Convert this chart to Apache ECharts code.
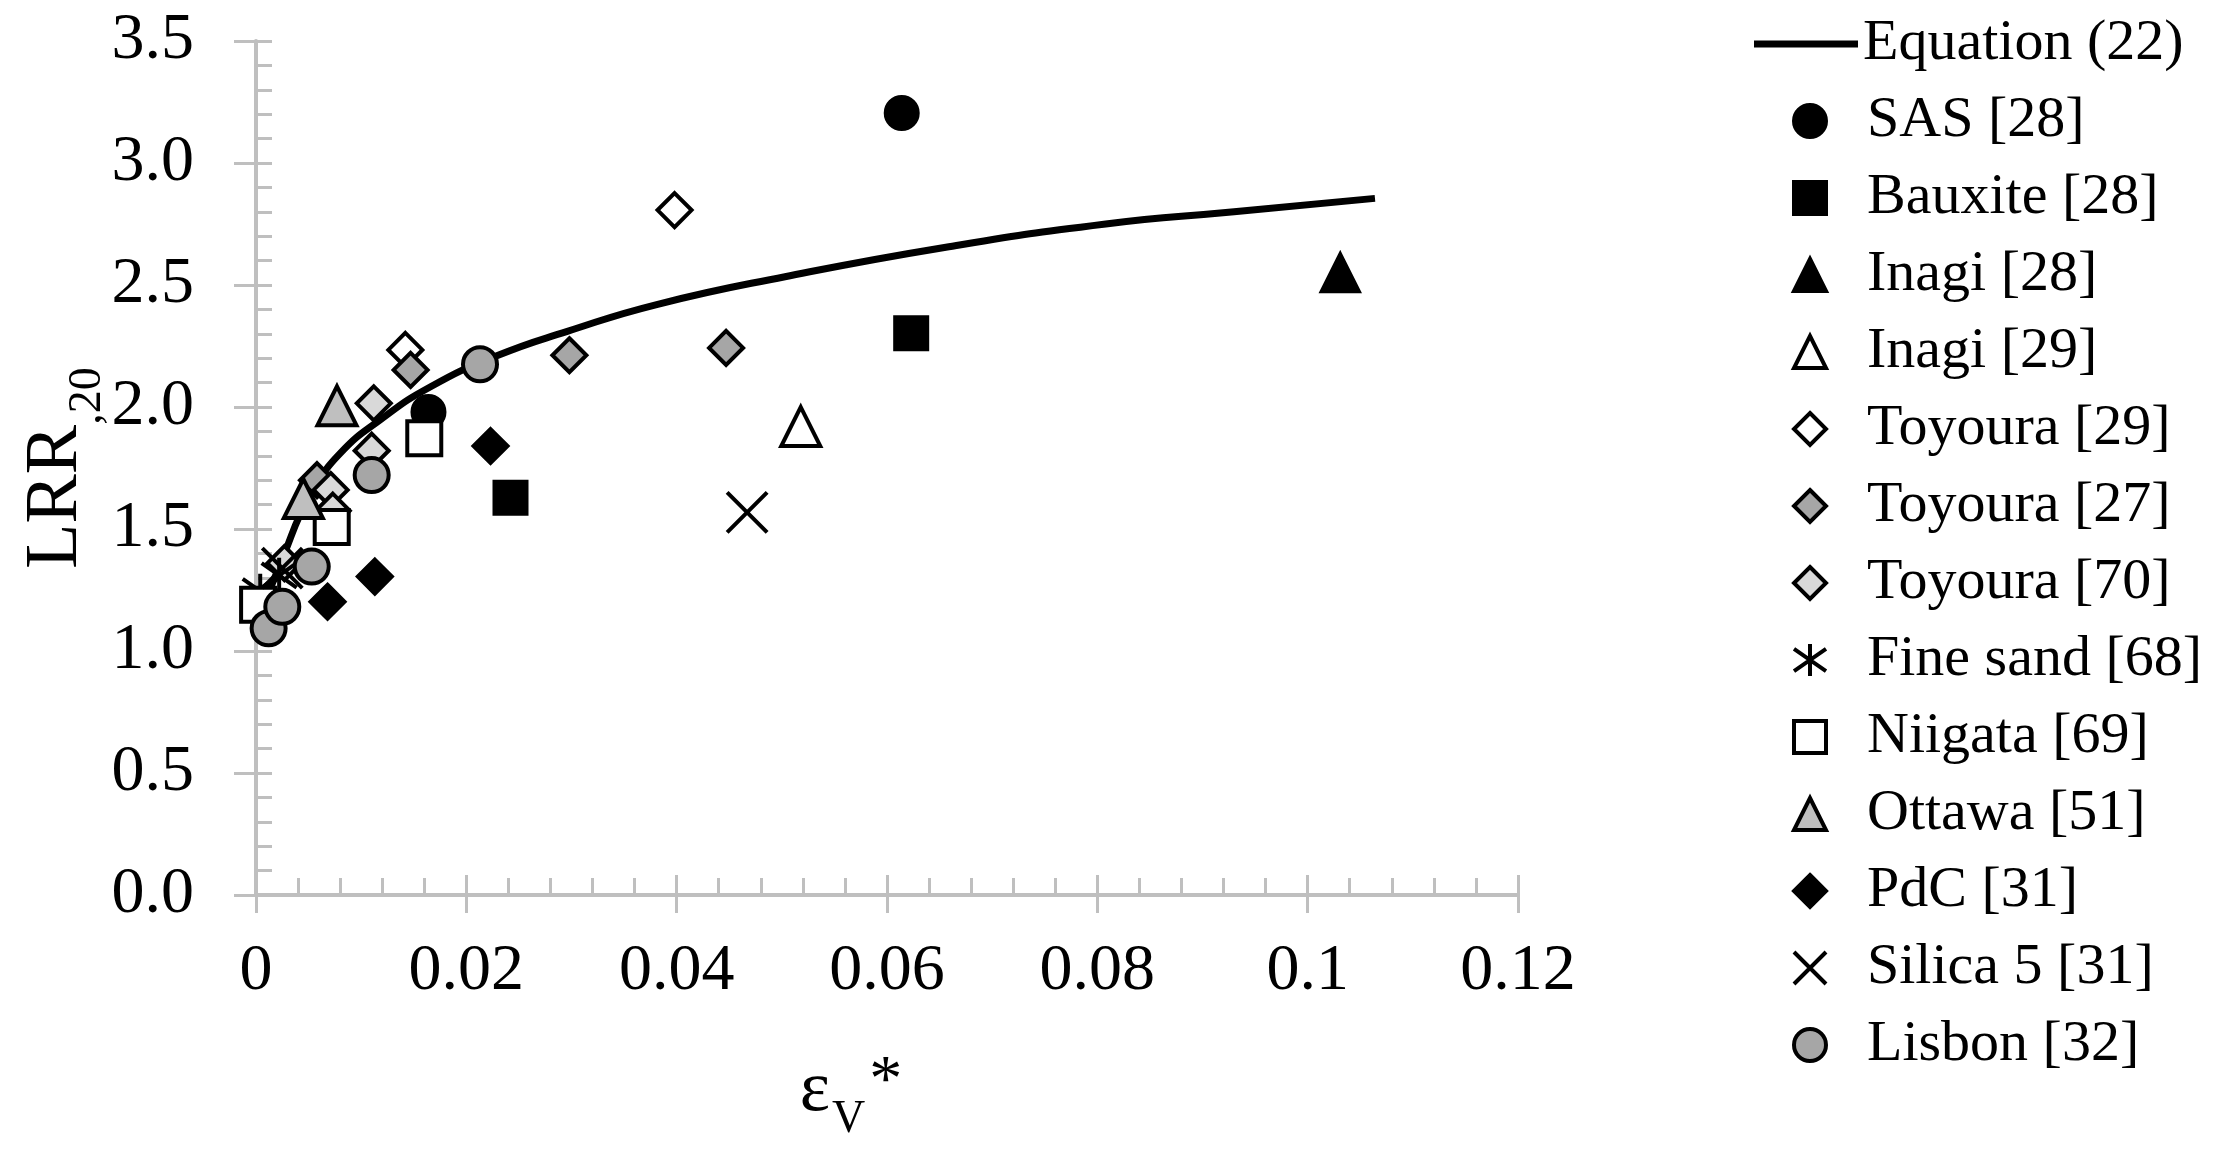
<!DOCTYPE html>
<html><head><meta charset="utf-8">
<script src="https://cdn.jsdelivr.net/npm/echarts@6/dist/echarts.min.js"></script>
<style>html,body{margin:0;padding:0;background:#fff}#c{width:2229px;height:1154px}</style>
</head><body><div id="c"></div>
<script>
// ---- data ----
const equation22 = [[0.0005,1.165],[0.0014,1.26],[0.0028,1.41],[0.0042,1.56],[0.0055,1.665],[0.008,1.81],[0.0118,1.947],[0.0166,2.083],[0.0229,2.21],[0.0296,2.31],[0.0381,2.42],[0.0503,2.534],[0.0656,2.655],[0.0808,2.75],[0.093,2.80],[0.1064,2.855]];
const sas28 = [[0.0164,1.98],[0.0614,3.205]];
const bauxite28 = [[0.0242,1.628],[0.0623,2.302]];
const inagi28 = [[0.1031,2.55]];
const inagi29 = [[0.0518,1.92]];
const toyoura29 = [[0.0142,2.234],[0.0398,2.807]];
const toyoura27 = [[0.0058,1.70],[0.0147,2.152],[0.0298,2.212],[0.0447,2.242]];
const toyoura70 = [[0.0027,1.36],[0.0071,1.66],[0.0073,1.575],[0.0110,1.821],[0.0112,2.015]];
const fineSand68 = [[0.0004,1.245],[0.0022,1.31]];
const niigata69 = [[0.0002,1.19],[0.0072,1.508],[0.0160,1.872]];
const ottawa51 = [[0.0045,1.625],[0.0077,2.005]];
const pdc31 = [[0.0068,1.202],[0.0113,1.305],[0.0223,1.84]];
const silica31 = [[0.0025,1.34],[0.0467,1.568]];
const lisbon32 = [[0.0012,1.093],[0.0025,1.181],[0.0053,1.346],[0.0110,1.721],[0.0213,2.175]];

const xRange = [0, 0.12, 0.02];
const yRange = [0, 3.5, 0.5];

const FONT = 'Liberation Serif';
const AX = '#bfbfbf';
const X_PATH = 'path://M0 0L10 10M10 0L0 10';
const STAR_PATH = 'path://M5 0L5 10M0 1.5L10 8.5M10 1.5L0 8.5';

function sc(name, data, symbol, size, fill) {
  return {
    name: name, type: 'scatter', data: data, symbol: symbol, symbolSize: size,
    symbolKeepAspect: true,
    itemStyle: { color: fill, borderColor: '#000', borderWidth: 4, opacity: 1 },
    emphasis: { disabled: true }, z: 3
  };
}

const series = [
  { name: 'Equation (22)', type: 'line', data: equation22, symbol: 'none', showSymbol: false,
    smooth: 0.5, lineStyle: { color: '#000', width: 7 }, itemStyle: { color: '#000' }, z: 2 },
  sc('SAS [28]', sas28, 'circle', 32, '#000'),
  sc('Bauxite [28]', bauxite28, 'rect', 32, '#000'),
  sc('Inagi [28]', inagi28, 'triangle', 37, '#000'),
  sc('Inagi [29]', inagi29, 'triangle', 39, '#fff'),
  sc('Toyoura [29]', toyoura29, 'diamond', 34, '#fff'),
  sc('Toyoura [27]', toyoura27, 'diamond', 34, '#a6a6a6'),
  sc('Toyoura [70]', toyoura70, 'diamond', 34, '#d9d9d9'),
  sc('Fine sand [68]', fineSand68, STAR_PATH, 35, 'transparent'),
  sc('Niigata [69]', niigata69, 'rect', 34, '#fff'),
  sc('Ottawa [51]', ottawa51, 'triangle', 39, '#bfbfbf'),
  sc('PdC [31]', pdc31, 'diamond', 34, '#000'),
  sc('Silica 5 [31]', silica31, X_PATH, 40, 'transparent'),
  sc('Lisbon [32]', lisbon32, 'circle', 34, '#a6a6a6')
];

const tickStyle = { color: AX, width: 3 };
const legendText = { fontFamily: FONT, fontSize: 58, lineHeight: 58, color: '#000' };
const chart = echarts.init(document.getElementById('c'));
chart.setOption({
  animation: false,
  backgroundColor: '#fff',
  grid: { left: 256, right: 711, top: 41, bottom: 259, containLabel: false, outerBoundsMode: 'none' },
  xAxis: [
    { type: 'value', min: xRange[0], max: xRange[1], interval: xRange[2], position: 'bottom',
      axisLine: { show: true, onZero: false, lineStyle: { color: AX, width: 4 } },
      axisTick: { show: true, inside: false, length: 18, lineStyle: tickStyle },
      minorTick: { show: false },
      splitLine: { show: false },
      axisLabel: { show: true, margin: 44, color: '#000', fontFamily: FONT, fontSize: 66, lineHeight: 66 },
      name: '{e|ε}{v|V}{s|*}', nameLocation: 'middle', nameGap: 155, nameMoveOverlap: false,
      nameTextStyle: { color: '#000', fontFamily: FONT,
        rich: {
          e: { fontFamily: FONT, fontSize: 72, lineHeight: 72, padding: [5, 0, 0, 0], verticalAlign: 'top', color: '#000' },
          v: { fontFamily: FONT, fontSize: 46, lineHeight: 46, padding: [47, 0, 0, 2], verticalAlign: 'top', color: '#000' },
          s: { fontFamily: FONT, fontSize: 66, lineHeight: 66, padding: [0, 72, 0, 4], verticalAlign: 'top', color: '#000' }
        } }
    },
    { type: 'value', min: xRange[0], max: xRange[1], interval: xRange[2], position: 'bottom', offset: 0,
      axisLine: { show: false, onZero: false },
      axisTick: { show: true, inside: true, length: 20, lineStyle: tickStyle },
      minorTick: { show: true, splitNumber: 5, length: 17, lineStyle: tickStyle },
      splitLine: { show: false }, minorSplitLine: { show: false },
      axisLabel: { show: false }
    }
  ],
  yAxis: [
    { type: 'value', min: yRange[0], max: yRange[1], interval: yRange[2], position: 'left',
      axisLine: { show: true, onZero: false, lineStyle: { color: AX, width: 4 } },
      axisTick: { show: true, inside: false, length: 22, lineStyle: tickStyle },
      minorTick: { show: false },
      splitLine: { show: false },
      axisLabel: { show: true, margin: 62, color: '#000', fontFamily: FONT, fontSize: 66,
        formatter: function (v) { return v.toFixed(1); } },
      name: '{m|LRR}{s|,20}', nameLocation: 'middle', nameRotate: 90, nameGap: 156, nameMoveOverlap: false,
      nameTextStyle: { color: '#000', fontFamily: FONT,
        rich: {
          m: { fontFamily: FONT, fontSize: 74, lineHeight: 80, verticalAlign: 'top', color: '#000' },
          s: { fontFamily: FONT, fontSize: 46, lineHeight: 46, padding: [45, 0, 0, 0], verticalAlign: 'top', color: '#000' }
        } }
    },
    { type: 'value', min: yRange[0], max: yRange[1], interval: yRange[2], position: 'left', offset: 0,
      axisLine: { show: false, onZero: false },
      axisTick: { show: true, inside: true, length: 16, lineStyle: tickStyle },
      minorTick: { show: true, splitNumber: 5, length: 16, lineStyle: tickStyle },
      splitLine: { show: false }, minorSplitLine: { show: false },
      axisLabel: { show: false }
    }
  ],
  legend: [
    { orient: 'vertical', left: 1754, top: 15, padding: 0,
      itemWidth: 104, itemHeight: 7, selectedMode: false,
      textStyle: legendText,
      itemStyle: { color: '#000', borderWidth: 0 },
      data: [{ name: series[0].name, icon: 'rect' }] },
    { orient: 'vertical', left: 1792, top: 92, padding: 0, itemGap: 19,
      itemWidth: 32, itemHeight: 32, selectedMode: false,
      textStyle: Object.assign({ padding: [0, 0, 0, 36] }, legendText),
      itemStyle: { borderWidth: 4 },
      data: series.slice(1).map(function (s) { return s.name; }) }
  ],
  series: series
});
</script>
</body></html>
